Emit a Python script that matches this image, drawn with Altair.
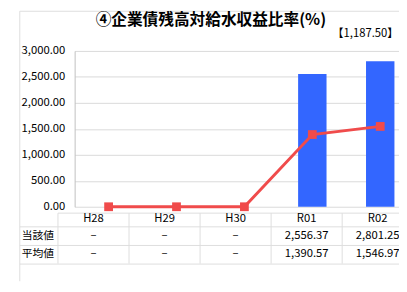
import altair as alt
import pandas as pd

# ---- data ----
categories = ["H28", "H29", "H30", "R01", "R02"]
current_values = [None, None, None, 2556.37, 2801.25]   # 当該値 (bars)
average_values = [None, None, None, 1390.57, 1546.97]   # 平均値 (line)
row_labels = ["当該値", "平均値"]
title_text = "④企業債残高対給水収益比率(%)"
note_text = "【1,187.50】"
y_ticks = [0, 500, 1000, 1500, 2000, 2500, 3000]

FONT = "Noto Sans CJK JP"
BLUE = "#3366FF"
RED = "#F04B4B"
GRID = "#D9D9D9"
TABLE_LINE = "#DDDDDD"

def fmt(v):
    return "–" if v is None else f"{v:,.2f}"

bar_df = pd.DataFrame({"year": categories, "value": current_values}).dropna()
line_df = pd.DataFrame({"year": categories,
                        "value": [0 if v is None else v for v in average_values]})
table_df = pd.DataFrame({
    "year": categories,
    "header": categories,
    "cur": [fmt(v) for v in current_values],
    "avg": [fmt(v) for v in average_values],
})

plot_x = alt.X("year:N", sort=categories, axis=None,
               scale=alt.Scale(domain=categories, range=[0, 346.5],
                               paddingInner=0, paddingOuter=0))
y_axis = alt.Axis(values=y_ticks, tickCount=7, format=",.2f", title=None,
                  ticks=False, labelPadding=10, labelFontSize=11.5,
                  labelFont=FONT, labelColor="#000000", labelOverlap=False,
                  domainColor="#BFBFBF", gridColor=GRID)
y_enc = alt.Y("value:Q", scale=alt.Scale(domain=[0, 3000], nice=False), axis=y_axis)

bars = alt.Chart(bar_df).mark_bar(size=29, color=BLUE).encode(x=plot_x, y=y_enc)
line = alt.Chart(line_df).mark_line(color=RED, strokeWidth=3).encode(x=plot_x, y=y_enc)
points = alt.Chart(line_df).mark_point(shape="square", filled=True, size=80,
                                       color=RED, opacity=1).encode(x=plot_x, y=y_enc)
plot = alt.layer(bars, line, points)

# ---- data table under the plot ----
table_x = alt.X("year:N", sort=categories, axis=None,
                scale=alt.Scale(domain=categories, range=[-17, 345.5],
                                paddingInner=0, paddingOuter=0))
table_x_start = alt.X("year:N", sort=categories, axis=None, bandPosition=0,
                      scale=alt.Scale(domain=categories, range=[-17, 345.5],
                                      paddingInner=0, paddingOuter=0))

base_t = alt.Chart(table_df)
txt = dict(font=FONT, fontSize=11.5, color="#000000", baseline="middle", align="center")
hdr = base_t.mark_text(**txt).encode(x=table_x, y=alt.value(172), text="header:N")
row1 = base_t.mark_text(**txt).encode(x=table_x, y=alt.value(188.5), text="cur:N")
row2 = base_t.mark_text(**txt).encode(x=table_x, y=alt.value(207.5), text="avg:N")
vlines = base_t.mark_rule(color=TABLE_LINE, strokeWidth=1).encode(
    x=table_x_start, y=alt.value(165.5), y2=alt.value(217))

labels1 = alt.Chart(pd.DataFrame({"label": [row_labels[0]]})).mark_text(
    font=FONT, fontSize=11, color="#000000", baseline="middle", align="left"
).encode(x=alt.value(-54), y=alt.value(188.5), text="label:N")
labels2 = alt.Chart(pd.DataFrame({"label": [row_labels[1]]})).mark_text(
    font=FONT, fontSize=11, color="#000000", baseline="middle", align="left"
).encode(x=alt.value(-54), y=alt.value(207.5), text="label:N")

def hrule(y, x0):
    return alt.Chart(pd.DataFrame({"k": [0]})).mark_rule(color=TABLE_LINE, strokeWidth=1).encode(
        x=alt.value(x0), x2=alt.value(331), y=alt.value(y))

def vrule(x, y0, y1, color):
    return alt.Chart(pd.DataFrame({"k": [0]})).mark_rule(color=color, strokeWidth=1).encode(
        x=alt.value(x), y=alt.value(y0), y2=alt.value(y1))

table = alt.layer(
    vlines,
    hrule(165.5, -17), hrule(179.5, -56), hrule(198.5, -56), hrule(217.5, -56),
    vrule(-56, -40.5, 235, TABLE_LINE),
    hrule(-40.5, -56),
    hdr, row1, row2, labels1, labels2,
)

title = alt.Chart(pd.DataFrame({"t": [title_text]})).mark_text(
    font=FONT, fontSize=16, fontWeight="bold", color="#000000",
    align="center", baseline="alphabetic"
).encode(x=alt.value(139), y=alt.value(-26), text="t:N")
note = alt.Chart(pd.DataFrame({"t": [note_text]})).mark_text(
    font=FONT, fontSize=11.5, color="#000000", align="right", baseline="middle"
).encode(x=alt.value(330.5), y=alt.value(-17), text="t:N")

chart = alt.layer(plot, table, title, note).resolve_scale(x="independent").properties(
    width=331, height=159,
    autosize=alt.AutoSizeParams(type="none"),
    padding={"left": 68, "top": 41, "right": 0, "bottom": 76},
    background="#FFFFFF",
).configure_view(stroke=None)

chart.save("out.html", embed_options={"renderer": "svg", "actions": False})
